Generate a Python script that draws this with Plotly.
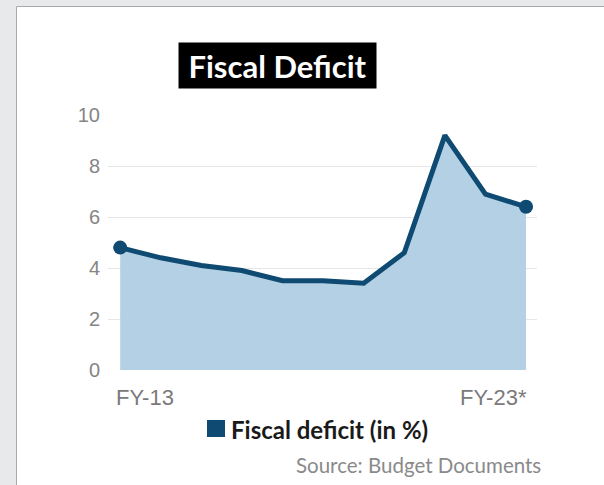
import plotly.graph_objects as go

# ---- data ----
categories = ["FY-13", "FY-14", "FY-15", "FY-16", "FY-17", "FY-18",
              "FY-19", "FY-20", "FY-21", "FY-22", "FY-23*"]
fiscal_deficit = [4.8, 4.4, 4.1, 3.9, 3.5, 3.5, 3.4, 4.6, 9.2, 6.9, 6.4]
y_ticks = [0, 2, 4, 6, 8, 10]
x_tick_labels = ["FY-13", "FY-23*"]
title_text = "Fiscal Deficit"
legend_text = "Fiscal deficit (in %)"
source_text = "Source: Budget Documents"

# ---- layout geometry (pixels) ----
W, H = 604, 485
PL, PR = 108, 537       # plot area left/right
PT, PB = 115, 370       # plot area top/bottom

def fx(px):
    return (px - PL) / (PR - PL)

def fy(py):
    return (PB - py) / (PB - PT)

LINE = "#0e4a72"
FILL = "#b3d0e5"

fig = go.Figure()

fig.add_trace(go.Scatter(
    x=categories, y=fiscal_deficit, mode="lines",
    line=dict(color=LINE, width=5),
    fill="tozeroy", fillcolor=FILL,
    showlegend=False, hoverinfo="skip", cliponaxis=False,
))
fig.add_trace(go.Scatter(
    x=[categories[0], categories[-1]],
    y=[fiscal_deficit[0], fiscal_deficit[-1]],
    mode="markers", marker=dict(color=LINE, size=14),
    showlegend=False, hoverinfo="skip", cliponaxis=False,
))

shapes = [
    # white panel with thin border
    dict(type="rect", xref="paper", yref="paper",
         x0=fx(16.5), x1=fx(612), y0=fy(493), y1=fy(6.5),
         fillcolor="white", line=dict(color="#a9a9a9", width=1), layer="below"),
    # legend swatch
    dict(type="rect", xref="paper", yref="paper",
         x0=fx(207), x1=fx(225), y0=fy(437), y1=fy(420),
         fillcolor=LINE, line=dict(width=0)),
]

annotations = [
    dict(text="<b>" + title_text + "</b>", xref="paper", yref="paper",
         x=fx(277.5), y=fy(65.5), xanchor="center", yanchor="middle",
         showarrow=False, bgcolor="black", width=193, height=41, borderpad=2,
         font=dict(family="Lato", size=31, color="white")),
    dict(text=x_tick_labels[0], xref="x", yref="paper",
         x=categories[0], y=fy(397), xanchor="left", yanchor="middle", xshift=-6,
         showarrow=False, font=dict(family="Liberation Sans", size=22, color="#7a7a7a")),
    dict(text=x_tick_labels[1], xref="x", yref="paper",
         x=categories[-1], y=fy(397), xanchor="right", yanchor="middle", xshift=3,
         showarrow=False, font=dict(family="Liberation Sans", size=22, color="#7a7a7a")),
    dict(text="<b>" + legend_text + "</b>", xref="paper", yref="paper",
         x=fx(229), y=fy(429), xanchor="left", yanchor="middle",
         showarrow=False, font=dict(family="Lato", size=24, color="#1a1a1a")),
    dict(text=source_text, xref="paper", yref="paper",
         x=fx(543), y=fy(465), xanchor="right", yanchor="middle",
         showarrow=False, font=dict(family="Lato", size=20.5, color="#8a8a8a")),
]

fig.update_layout(
    width=W, height=H,
    margin=dict(l=PL, r=W - PR, t=PT, b=H - PB, pad=0),
    paper_bgcolor="#e8e9ea",
    plot_bgcolor="rgba(0,0,0,0)",
    shapes=shapes, annotations=annotations,
    showlegend=False,
    xaxis=dict(type="category", range=[-0.3, 10.27], showticklabels=False,
               showgrid=False, zeroline=False, showline=False, fixedrange=True),
    yaxis=dict(range=[0, 10], tickvals=y_ticks, showgrid=True,
               gridcolor="#e6e6e6", gridwidth=1, zeroline=False, showline=False,
               ticks="", ticklabelstandoff=7,
               tickfont=dict(family="Liberation Sans", size=20, color="#858585"),
               fixedrange=True),
)

fig.write_html("out.html")
